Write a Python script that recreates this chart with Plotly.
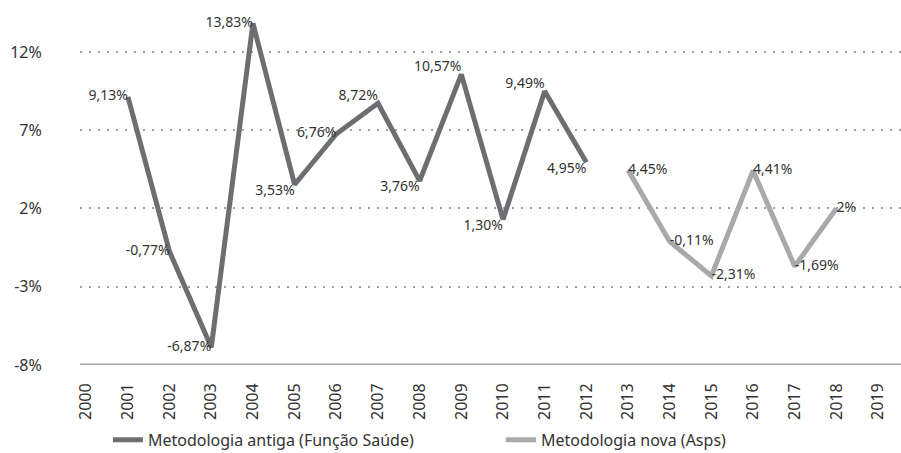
import plotly.graph_objects as go

years_old = [2001, 2002, 2003, 2004, 2005, 2006, 2007, 2008, 2009, 2010, 2011, 2012]
vals_old = [9.13, -0.77, -6.87, 13.83, 3.53, 6.76, 8.72, 3.76, 10.57, 1.30, 9.49, 4.95]
labels_old = ["9,13%", "-0,77%", "-6,87%", "13,83%", "3,53%", "6,76%", "8,72%", "3,76%", "10,57%", "1,30%", "9,49%", "4,95%"]
pos_old = ["middle left", "middle left", "middle left", "middle left", "bottom left", "middle left",
           "top left", "bottom left", "top left", "bottom left", "top left", "bottom left"]

years_new = [2013, 2014, 2015, 2016, 2017, 2018]
vals_new = [4.45, -0.11, -2.31, 4.41, -1.69, 2.0]
labels_new = ["4,45%", "-0,11%", "-2,31%", "4,41%", "-1,69%", "2%"]
pos_new = ["middle right"] * 6

x_ticks = list(range(2000, 2020))
y_ticks = [-8, -3, 2, 7, 12]
y_labels = ["-8%", "-3%", "2%", "7%", "12%"]

FONT = "Noto Sans"
fig = go.Figure()
fig.add_trace(go.Scatter(
    x=years_old, y=vals_old, mode="lines+text", text=labels_old, textposition=pos_old,
    line=dict(color="#6d6e71", width=5), textfont=dict(size=14, color="#333333", family=FONT),
    name="Metodologia antiga (Função Saúde)", cliponaxis=False))
fig.add_trace(go.Scatter(
    x=years_new, y=vals_new, mode="lines+text", text=labels_new, textposition=pos_new,
    line=dict(color="#a7a9ac", width=5), textfont=dict(size=14, color="#333333", family=FONT),
    name="Metodologia nova (Asps)", cliponaxis=False))

fig.update_layout(
    width=901, height=453,
    margin=dict(l=80, r=0, t=5, b=88, autoexpand=False),
    plot_bgcolor="white", paper_bgcolor="white",
    font=dict(family=FONT, size=16, color="#333333"),
    showlegend=True,
    legend=dict(orientation="h", x=0.034, y=-0.208, yanchor="middle", xanchor="left",
                bgcolor="rgba(0,0,0,0)",
                font=dict(size=16, color="#333333"), itemwidth=30, tracegroupgap=0,
                entrywidthmode="pixels", entrywidth=348),
    xaxis=dict(range=[1999.85, 2019.55], tickvals=x_ticks, ticktext=[str(v) for v in x_ticks],
               tickangle=-90, showgrid=False, zeroline=False, showline=False, automargin=False,
               ticks="outside", ticklen=11, tickcolor="rgba(0,0,0,0)",
               tickfont=dict(size=16, color="#333333")),
    yaxis=dict(range=[-8, 15], tickvals=y_ticks, ticktext=y_labels, showgrid=True,
               gridcolor="#a0a0a0", griddash="2px,7px", gridwidth=2, zeroline=False,
               automargin=False,
               ticks="outside", ticklen=34, tickcolor="rgba(0,0,0,0)",
               tickfont=dict(size=16, color="#333333")),
)
# baseline at -8
fig.add_shape(type="line", xref="paper", yref="y", x0=0, x1=1, y0=-8, y1=-8,
              line=dict(color="#a6a6a6", width=3))

fig.write_html("out.html", config={"displayModeBar": False},
               post_script="document.body.style.margin='0px';")
